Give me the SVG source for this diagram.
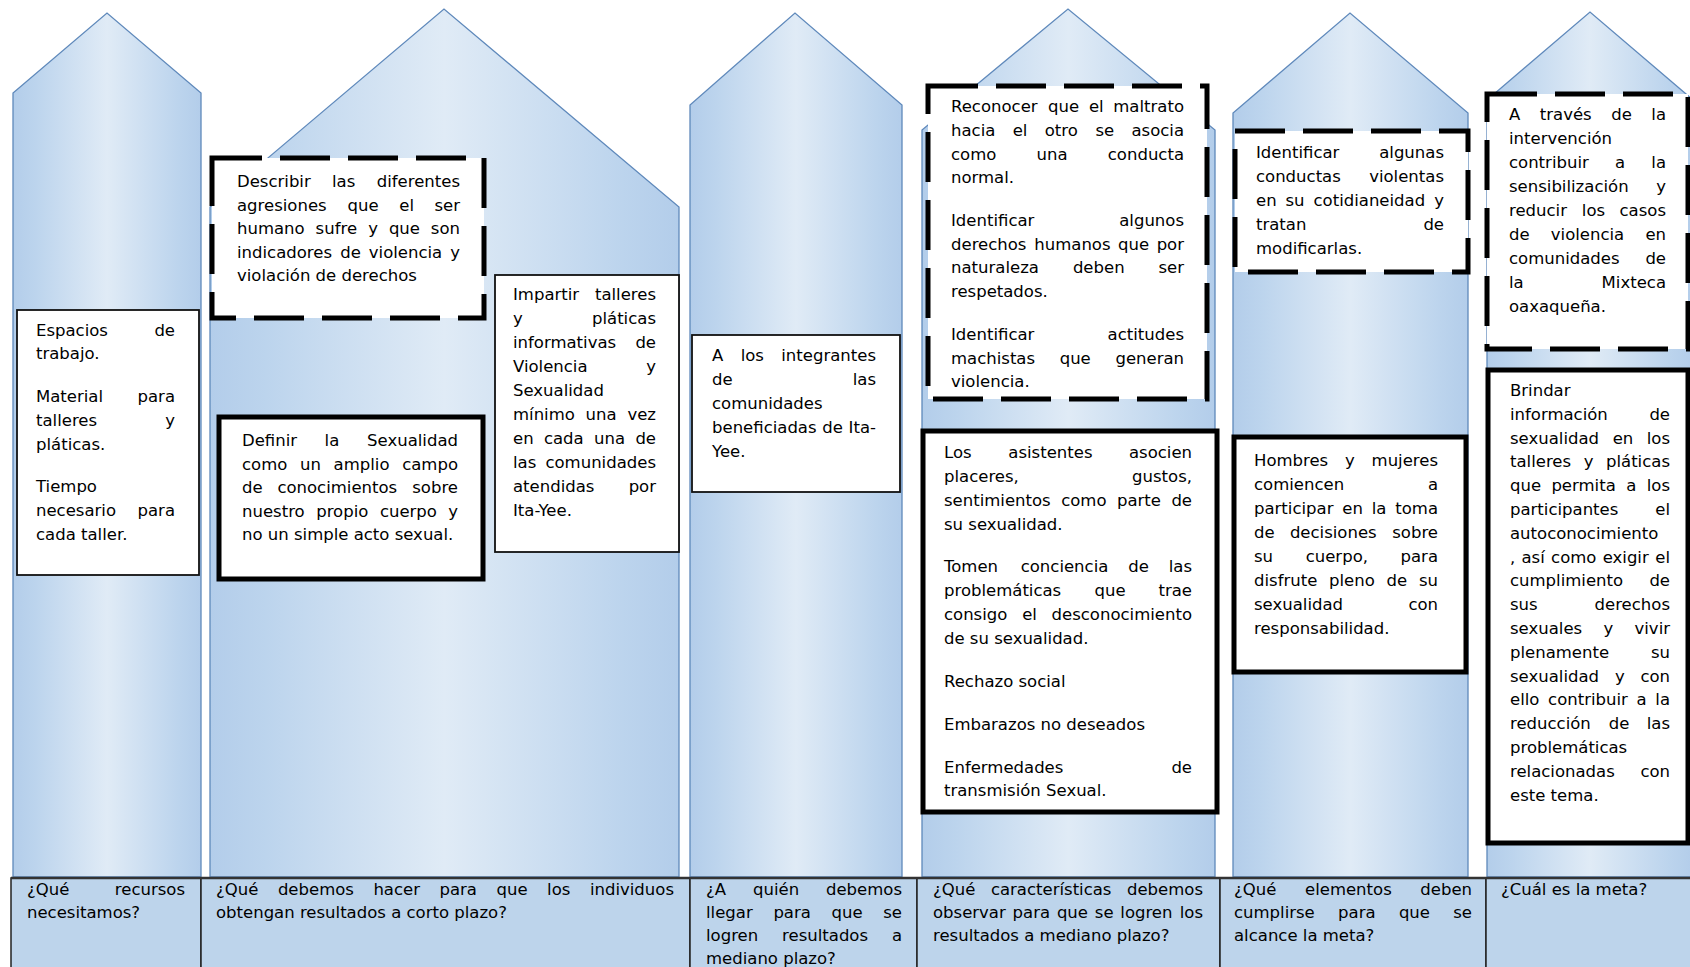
<svg xmlns="http://www.w3.org/2000/svg" width="1690" height="967" viewBox="0 0 1690 967">
<defs>
<linearGradient id="colg" x1="0" y1="0" x2="1" y2="0">
<stop offset="0" stop-color="#b3cdea"/>
<stop offset="0.12" stop-color="#bcd4ed"/>
<stop offset="0.5" stop-color="#e0ebf6"/>
<stop offset="0.88" stop-color="#bcd4ed"/>
<stop offset="1" stop-color="#b3cdea"/>
</linearGradient>
</defs>
<style>
.col{fill:url(#colg);stroke:#5f89bb;stroke-width:1.3}
.thin{fill:#fff;stroke:#111;stroke-width:1.8}
.thick{fill:#fff;stroke:#000;stroke-width:5}
.dash{fill:#fff;stroke:#000;stroke-width:5;stroke-dasharray:50 18}
.cell{fill:#bdd4eb;stroke:#222;stroke-width:1.5}
.t{font-family:"DejaVu Sans",sans-serif;font-size:16.5px;fill:#000}
.e{text-anchor:end}
</style>
<g id="columns">
<polygon class="col" points="13,877 13,93 107,13 201,93 201,877"/>
<polygon class="col" points="210,877 210,207 444,9 679,207 679,877"/>
<polygon class="col" points="690,877 690,105 795,13 902,105 902,877"/>
<polygon class="col" points="922,877 922,130 1068,9 1215,130 1215,877"/>
<polygon class="col" points="1233,877 1233,113 1350,13 1468,113 1468,877"/>
<polygon class="col" points="1487,877 1487,100 1590,12 1693,100 1693,877"/>
</g>
<g id="connectors"></g>
<g id="box-recursos">
<rect class="thin" x="17" y="310" width="182" height="265"/>
<text class="t" y="336"><tspan x="36">Espacios</tspan><tspan x="175" class="e">de</tspan></text>
<text class="t" x="36" y="359">trabajo.</text>
<text class="t" y="402"><tspan x="36">Material</tspan><tspan x="175" class="e">para</tspan></text>
<text class="t" y="426"><tspan x="36">talleres</tspan><tspan x="175" class="e">y</tspan></text>
<text class="t" x="36" y="450">pláticas.</text>
<text class="t" x="36" y="492">Tiempo</text>
<text class="t" y="516"><tspan x="36">necesario</tspan><tspan x="175" class="e">para</tspan></text>
<text class="t" x="36" y="540">cada taller.</text>
</g>
<g id="box-describir">
<rect class="dash" x="212" y="158" width="272" height="160"/>
<text class="t" y="187"><tspan x="237">Describir</tspan><tspan x="332">las</tspan><tspan x="460" class="e">diferentes</tspan></text>
<text class="t" y="210.5"><tspan x="237">agresiones</tspan><tspan x="347.6">que</tspan><tspan x="399.3">el</tspan><tspan x="460" class="e">ser</tspan></text>
<text class="t" y="234"><tspan x="237">humano</tspan><tspan x="315.6">sufre</tspan><tspan x="368.2">y</tspan><tspan x="388.9">que</tspan><tspan x="460" class="e">son</tspan></text>
<text class="t" y="257.5"><tspan x="237">indicadores</tspan><tspan x="340.3">de</tspan><tspan x="368.8">violencia</tspan><tspan x="460" class="e">y</tspan></text>
<text class="t" x="237" y="281">violación de derechos</text>
</g>
<g id="box-definir">
<rect class="thick" x="219" y="417" width="264" height="162"/>
<text class="t" y="446"><tspan x="242">Definir</tspan><tspan x="324.6">la</tspan><tspan x="458" class="e">Sexualidad</tspan></text>
<text class="t" y="469.5"><tspan x="242">como</tspan><tspan x="300">un</tspan><tspan x="333.6">amplio</tspan><tspan x="458" class="e">campo</tspan></text>
<text class="t" y="493"><tspan x="242">de</tspan><tspan x="277.4">conocimientos</tspan><tspan x="458" class="e">sobre</tspan></text>
<text class="t" y="516.5"><tspan x="242">nuestro</tspan><tspan x="316.2">propio</tspan><tspan x="379.9">cuerpo</tspan><tspan x="458" class="e">y</tspan></text>
<text class="t" x="242" y="540">no un simple acto sexual.</text>
</g>
<g id="box-impartir">
<rect class="thin" x="495" y="275" width="184" height="277"/>
<text class="t" y="300"><tspan x="513">Impartir</tspan><tspan x="656" class="e">talleres</tspan></text>
<text class="t" y="324"><tspan x="513">y</tspan><tspan x="656" class="e">pláticas</tspan></text>
<text class="t" y="348"><tspan x="513">informativas</tspan><tspan x="656" class="e">de</tspan></text>
<text class="t" y="372"><tspan x="513">Violencia</tspan><tspan x="656" class="e">y</tspan></text>
<text class="t" x="513" y="396">Sexualidad</text>
<text class="t" y="420"><tspan x="513">mínimo</tspan><tspan x="585.6">una</tspan><tspan x="656" class="e">vez</tspan></text>
<text class="t" y="444"><tspan x="513">en</tspan><tspan x="543.9">cada</tspan><tspan x="594">una</tspan><tspan x="656" class="e">de</tspan></text>
<text class="t" y="468"><tspan x="513">las</tspan><tspan x="656" class="e">comunidades</tspan></text>
<text class="t" y="492"><tspan x="513">atendidas</tspan><tspan x="656" class="e">por</tspan></text>
<text class="t" x="513" y="516">Ita-Yee.</text>
</g>
<g id="box-integrantes">
<rect class="thin" x="692" y="335" width="208" height="157"/>
<text class="t" y="361"><tspan x="712">A</tspan><tspan x="740.7">los</tspan><tspan x="876" class="e">integrantes</tspan></text>
<text class="t" y="385"><tspan x="712">de</tspan><tspan x="876" class="e">las</tspan></text>
<text class="t" x="712" y="409">comunidades</text>
<text class="t" y="433"><tspan x="712">beneficiadas</tspan><tspan x="822.3">de</tspan><tspan x="876" class="e">Ita-</tspan></text>
<text class="t" x="712" y="457">Yee.</text>
</g>
<g id="box-reconocer">
<rect class="dash" x="928" y="86" width="279" height="313"/>
<text class="t" y="112"><tspan x="951">Reconocer</tspan><tspan x="1048.1">que</tspan><tspan x="1088.9">el</tspan><tspan x="1184" class="e">maltrato</tspan></text>
<text class="t" y="136"><tspan x="951">hacia</tspan><tspan x="1012.7">el</tspan><tspan x="1044.7">otro</tspan><tspan x="1095.4">se</tspan><tspan x="1184" class="e">asocia</tspan></text>
<text class="t" y="160"><tspan x="951">como</tspan><tspan x="1036.6">una</tspan><tspan x="1184" class="e">conducta</tspan></text>
<text class="t" x="951" y="183">normal.</text>
<text class="t" y="226"><tspan x="951">Identificar</tspan><tspan x="1184" class="e">algunos</tspan></text>
<text class="t" y="250"><tspan x="951">derechos</tspan><tspan x="1034.3">humanos</tspan><tspan x="1118.1">que</tspan><tspan x="1184" class="e">por</tspan></text>
<text class="t" y="273"><tspan x="951">naturaleza</tspan><tspan x="1072.9">deben</tspan><tspan x="1184" class="e">ser</tspan></text>
<text class="t" x="951" y="297">respetados.</text>
<text class="t" y="340"><tspan x="951">Identificar</tspan><tspan x="1184" class="e">actitudes</tspan></text>
<text class="t" y="364"><tspan x="951">machistas</tspan><tspan x="1059.7">que</tspan><tspan x="1184" class="e">generan</tspan></text>
<text class="t" x="951" y="387">violencia.</text>
</g>
<g id="box-asistentes">
<rect class="thick" x="923" y="431" width="294" height="381"/>
<text class="t" y="458"><tspan x="944">Los</tspan><tspan x="1008.3">asistentes</tspan><tspan x="1192" class="e">asocien</tspan></text>
<text class="t" y="482"><tspan x="944">placeres,</tspan><tspan x="1192" class="e">gustos,</tspan></text>
<text class="t" y="506"><tspan x="944">sentimientos</tspan><tspan x="1061.2">como</tspan><tspan x="1117">parte</tspan><tspan x="1192" class="e">de</tspan></text>
<text class="t" x="944" y="530">su sexualidad.</text>
<text class="t" y="572"><tspan x="944">Tomen</tspan><tspan x="1020.7">conciencia</tspan><tspan x="1128.2">de</tspan><tspan x="1192" class="e">las</tspan></text>
<text class="t" y="596"><tspan x="944">problemáticas</tspan><tspan x="1094.5">que</tspan><tspan x="1192" class="e">trae</tspan></text>
<text class="t" y="620"><tspan x="944">consigo</tspan><tspan x="1022.2">el</tspan><tspan x="1192" class="e">desconocimiento</tspan></text>
<text class="t" x="944" y="644">de su sexualidad.</text>
<text class="t" x="944" y="687">Rechazo social</text>
<text class="t" x="944" y="730">Embarazos no deseados</text>
<text class="t" y="773"><tspan x="944">Enfermedades</tspan><tspan x="1192" class="e">de</tspan></text>
<text class="t" x="944" y="796">transmisión Sexual.</text>
</g>
<g id="box-identificar">
<rect class="dash" x="1235" y="131" width="233" height="141"/>
<text class="t" y="158"><tspan x="1256">Identificar</tspan><tspan x="1444" class="e">algunas</tspan></text>
<text class="t" y="182"><tspan x="1256">conductas</tspan><tspan x="1444" class="e">violentas</tspan></text>
<text class="t" y="206"><tspan x="1256">en</tspan><tspan x="1285.5">su</tspan><tspan x="1313.5">cotidianeidad</tspan><tspan x="1444" class="e">y</tspan></text>
<text class="t" y="230"><tspan x="1256">tratan</tspan><tspan x="1444" class="e">de</tspan></text>
<text class="t" x="1256" y="254">modificarlas.</text>
</g>
<g id="box-hombres">
<rect class="thick" x="1234" y="437" width="232" height="235"/>
<text class="t" y="466"><tspan x="1254">Hombres</tspan><tspan x="1345">y</tspan><tspan x="1438" class="e">mujeres</tspan></text>
<text class="t" y="490"><tspan x="1254">comiencen</tspan><tspan x="1438" class="e">a</tspan></text>
<text class="t" y="514"><tspan x="1254">participar</tspan><tspan x="1342.3">en</tspan><tspan x="1371.7">la</tspan><tspan x="1438" class="e">toma</tspan></text>
<text class="t" y="538"><tspan x="1254">de</tspan><tspan x="1289.9">decisiones</tspan><tspan x="1438" class="e">sobre</tspan></text>
<text class="t" y="562"><tspan x="1254">su</tspan><tspan x="1305.7">cuerpo,</tspan><tspan x="1438" class="e">para</tspan></text>
<text class="t" y="586"><tspan x="1254">disfrute</tspan><tspan x="1329">pleno</tspan><tspan x="1386.5">de</tspan><tspan x="1438" class="e">su</tspan></text>
<text class="t" y="610"><tspan x="1254">sexualidad</tspan><tspan x="1438" class="e">con</tspan></text>
<text class="t" x="1254" y="634">responsabilidad.</text>
</g>
<g id="box-traves">
<rect class="dash" x="1487" y="94" width="201" height="255"/>
<text class="t" y="120"><tspan x="1509">A</tspan><tspan x="1539.8">través</tspan><tspan x="1611.2">de</tspan><tspan x="1666" class="e">la</tspan></text>
<text class="t" x="1509" y="144">intervención</text>
<text class="t" y="168"><tspan x="1509">contribuir</tspan><tspan x="1615">a</tspan><tspan x="1666" class="e">la</tspan></text>
<text class="t" y="192"><tspan x="1509">sensibilización</tspan><tspan x="1666" class="e">y</tspan></text>
<text class="t" y="216"><tspan x="1509">reducir</tspan><tspan x="1581.8">los</tspan><tspan x="1666" class="e">casos</tspan></text>
<text class="t" y="240"><tspan x="1509">de</tspan><tspan x="1550.8">violencia</tspan><tspan x="1666" class="e">en</tspan></text>
<text class="t" y="264"><tspan x="1509">comunidades</tspan><tspan x="1666" class="e">de</tspan></text>
<text class="t" y="288"><tspan x="1509">la</tspan><tspan x="1666" class="e">Mixteca</tspan></text>
<text class="t" x="1509" y="312">oaxaqueña.</text>
</g>
<g id="box-brindar">
<rect class="thick" x="1488" y="370" width="200" height="473"/>
<text class="t" x="1510" y="396">Brindar</text>
<text class="t" y="419.8"><tspan x="1510">información</tspan><tspan x="1670" class="e">de</tspan></text>
<text class="t" y="443.6"><tspan x="1510">sexualidad</tspan><tspan x="1612.7">en</tspan><tspan x="1670" class="e">los</tspan></text>
<text class="t" y="467.4"><tspan x="1510">talleres</tspan><tspan x="1583.8">y</tspan><tspan x="1670" class="e">pláticas</tspan></text>
<text class="t" y="491.2"><tspan x="1510">que</tspan><tspan x="1551.4">permita</tspan><tspan x="1626.3">a</tspan><tspan x="1670" class="e">los</tspan></text>
<text class="t" y="515"><tspan x="1510">participantes</tspan><tspan x="1670" class="e">el</tspan></text>
<text class="t" x="1510" y="538.8">autoconocimiento</text>
<text class="t" y="562.6"><tspan x="1510">,</tspan><tspan x="1521.5">así</tspan><tspan x="1551.1">como</tspan><tspan x="1602.7">exigir</tspan><tspan x="1670" class="e">el</tspan></text>
<text class="t" y="586.4"><tspan x="1510">cumplimiento</tspan><tspan x="1670" class="e">de</tspan></text>
<text class="t" y="610.2"><tspan x="1510">sus</tspan><tspan x="1670" class="e">derechos</tspan></text>
<text class="t" y="634"><tspan x="1510">sexuales</tspan><tspan x="1603.6">y</tspan><tspan x="1670" class="e">vivir</tspan></text>
<text class="t" y="657.8"><tspan x="1510">plenamente</tspan><tspan x="1670" class="e">su</tspan></text>
<text class="t" y="681.6"><tspan x="1510">sexualidad</tspan><tspan x="1615">y</tspan><tspan x="1670" class="e">con</tspan></text>
<text class="t" y="705.4"><tspan x="1510">ello</tspan><tspan x="1548.1">contribuir</tspan><tspan x="1636.6">a</tspan><tspan x="1670" class="e">la</tspan></text>
<text class="t" y="729.2"><tspan x="1510">reducción</tspan><tspan x="1608.7">de</tspan><tspan x="1670" class="e">las</tspan></text>
<text class="t" x="1510" y="753">problemáticas</text>
<text class="t" y="776.8"><tspan x="1510">relacionadas</tspan><tspan x="1670" class="e">con</tspan></text>
<text class="t" x="1510" y="800.6">este tema.</text>
</g>
<g id="table">
<rect class="cell" x="11" y="878" width="190" height="95"/>
<rect class="cell" x="201" y="878" width="489" height="95"/>
<rect class="cell" x="690" y="878" width="227" height="95"/>
<rect class="cell" x="917" y="878" width="303" height="95"/>
<rect class="cell" x="1220" y="878" width="266" height="95"/>
<rect class="cell" x="1486" y="878" width="210" height="95"/>
<line x1="11" y1="878" x2="1690" y2="878" stroke="#333" stroke-width="2.5"/>
</g>
<g id="q-recursos">
<text class="t" y="895"><tspan x="27">¿Qué</tspan><tspan x="185" class="e">recursos</tspan></text>
<text class="t" x="27" y="918">necesitamos?</text>
</g>
<g id="q-hacer">
<text class="t" y="895"><tspan x="216">¿Qué</tspan><tspan x="277.9">debemos</tspan><tspan x="373.4">hacer</tspan><tspan x="439.5">para</tspan><tspan x="496.5">que</tspan><tspan x="547.1">los</tspan><tspan x="674" class="e">individuos</tspan></text>
<text class="t" x="216" y="918">obtengan resultados a corto plazo?</text>
</g>
<g id="q-quien">
<text class="t" y="895"><tspan x="706">¿A</tspan><tspan x="753">quién</tspan><tspan x="902" class="e">debemos</tspan></text>
<text class="t" y="918"><tspan x="706">llegar</tspan><tspan x="773.4">para</tspan><tspan x="831.6">que</tspan><tspan x="902" class="e">se</tspan></text>
<text class="t" y="941"><tspan x="706">logren</tspan><tspan x="782.1">resultados</tspan><tspan x="902" class="e">a</tspan></text>
<text class="t" x="706" y="964">mediano plazo?</text>
</g>
<g id="q-caracteristicas">
<text class="t" y="895"><tspan x="933">¿Qué</tspan><tspan x="990.9">características</tspan><tspan x="1203" class="e">debemos</tspan></text>
<text class="t" y="918"><tspan x="933">observar</tspan><tspan x="1012.6">para</tspan><tspan x="1056.9">que</tspan><tspan x="1094.8">se</tspan><tspan x="1120.3">logren</tspan><tspan x="1203" class="e">los</tspan></text>
<text class="t" x="933" y="941">resultados a mediano plazo?</text>
</g>
<g id="q-elementos">
<text class="t" y="895"><tspan x="1234">¿Qué</tspan><tspan x="1305">elementos</tspan><tspan x="1472" class="e">deben</tspan></text>
<text class="t" y="918"><tspan x="1234">cumplirse</tspan><tspan x="1338.1">para</tspan><tspan x="1398.9">que</tspan><tspan x="1472" class="e">se</tspan></text>
<text class="t" x="1234" y="941">alcance la meta?</text>
</g>
<g id="q-meta">
<text class="t" x="1501" y="895">¿Cuál es la meta?</text>
</g>
</svg>
